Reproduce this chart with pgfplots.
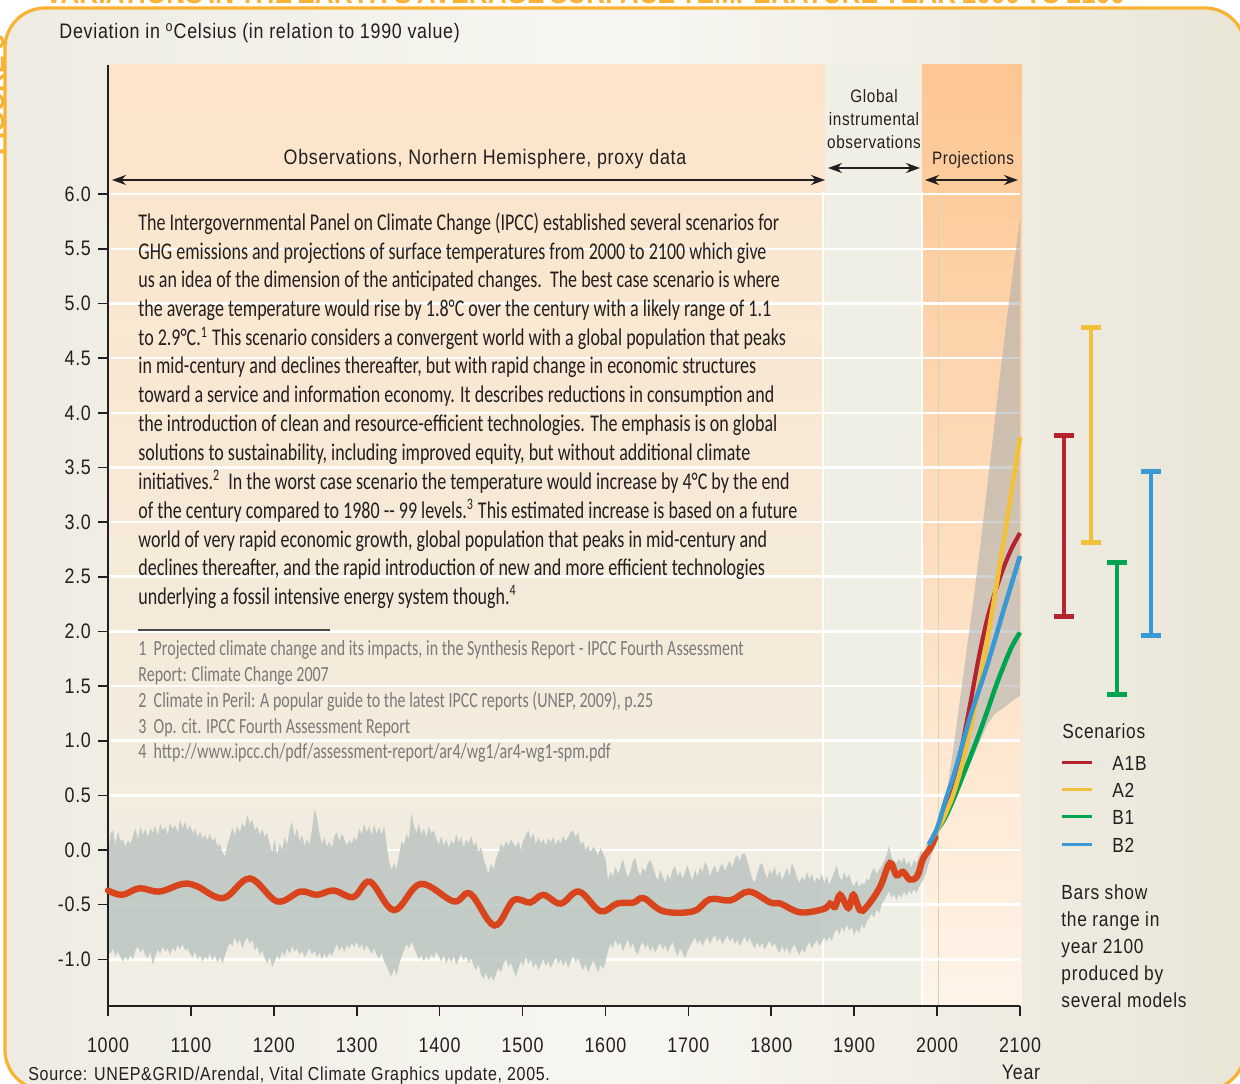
\documentclass[border=0pt]{standalone}
\usepackage{pgfplots}
\pgfplotsset{compat=1.18}
\usepackage{pgfplotstable}
\usetikzlibrary{arrows.meta}
\usepackage{fontspec}
\setmainfont{Liberation Sans}
\newfontfamily\lab[FakeStretch=0.85, LetterSpace=3.5]{Liberation Sans}
\newfontfamily\body[FakeStretch=0.75]{Carlito}
\newfontfamily\nte[FakeStretch=0.74]{Carlito}
\newfontfamily\ttl[FakeStretch=0.95]{Liberation Sans}
\newcommand\labfont{\lab\fontsize{10.5}{12.6}\selectfont}
\newcommand\smlfont{\lab\fontsize{9}{11}\selectfont}
\newcommand\srcfont{\lab\fontsize{9.4}{11}\selectfont}
\newcommand\legfont{\lab\fontsize{10.2}{12}\selectfont}
\newcommand\bodyfont{\body\fontsize{12}{14.35}\selectfont}
\newcommand\notefont{\nte\fontsize{10.8}{13}\selectfont}
\newcommand\ttlfont{\ttl\bfseries\fontsize{13.8}{16}\selectfont}

\definecolor{frameor}{HTML}{F9B234}
\definecolor{panelL}{HTML}{EEECE2}
\definecolor{panelM}{HTML}{F7F6F1}
\definecolor{panelR}{HTML}{E9E6D8}
\definecolor{proxyT}{HTML}{FCE5CA}
\definecolor{proxyB}{HTML}{F0EEE5}
\definecolor{instr}{HTML}{F0EFE6}
\definecolor{projT}{HTML}{FDC692}
\definecolor{projB}{HTML}{FEF4E9}
\definecolor{band}{HTML}{BCC6C2}
\definecolor{obsred}{HTML}{D8451D}
\definecolor{cA1B}{HTML}{B5242E}
\definecolor{cA2}{HTML}{F2C13B}
\definecolor{cB1}{HTML}{00A450}
\definecolor{cB2}{HTML}{3A98D3}
\definecolor{txt}{HTML}{231F20}
\definecolor{note}{HTML}{7A7A7A}
\definecolor{projband}{HTML}{A9ADAD}
\definecolor{grn}{HTML}{C9D9B4}

\pgfplotsset{myax/.style={at={(54pt,38.5pt)}, anchor=south west,
  width=456pt, height=470.5pt, scale only axis,
  xmin=1000, xmax=2100, ymin=-1.427, ymax=7.182}}

\pgfplotstableread{
yr u l
1000 -0.05 -0.92
1003 0.15 -0.95
1006 0.18 -0.90
1009 0.05 -0.97
1012 0.17 -0.93
1015 0.08 -0.98
1018 0.10 -1.02
1021 0.03 -0.97
1024 0.09 -1.01
1027 0.06 -0.96
1030 0.12 -1.00
1033 0.20 -0.92
1036 0.10 -0.88
1039 0.21 -0.94
1042 0.14 -0.90
1045 0.19 -0.96
1048 0.12 -0.99
1051 0.20 -0.93
1054 0.16 -1.05
1057 0.22 -0.97
1060 0.13 -0.91
1063 0.24 -0.95
1066 0.18 -0.88
1069 0.21 -0.93
1072 0.14 -0.90
1075 0.25 -0.96
1078 0.19 -0.89
1081 0.23 -0.93
1084 0.16 -0.87
1087 0.28 -0.91
1090 0.20 -0.86
1093 0.26 -0.92
1096 0.18 -0.90
1099 0.23 -0.95
1102 0.15 -0.98
1105 0.20 -0.93
1108 0.12 -1.00
1111 0.17 -0.96
1114 0.10 -1.02
1117 0.14 -0.97
1120 0.09 -1.00
1123 0.15 -0.95
1126 0.08 -1.01
1129 0.12 -0.96
1132 0.03 -1.03
1135 0.06 -0.98
1138 -0.02 -1.04
1141 -0.06 -0.97
1144 0.05 -0.90
1147 0.12 -0.85
1150 0.20 -0.88
1153 0.14 -0.80
1156 0.22 -0.86
1159 0.16 -0.82
1162 0.25 -0.90
1165 0.20 -0.84
1168 0.32 -0.80
1171 0.24 -0.86
1174 0.28 -0.82
1177 0.18 -0.92
1180 0.22 -0.88
1183 0.14 -0.96
1186 0.19 -0.92
1189 0.12 -0.99
1192 0.16 -1.04
1195 0.05 -0.98
1198 -0.02 -1.07
1201 0.10 -1.02
1204 -0.05 -0.96
1207 0.06 -1.00
1210 0.00 -0.93
1213 0.12 -0.97
1216 0.05 -0.90
1219 0.18 -0.95
1222 0.26 -0.88
1225 0.12 -0.93
1228 0.20 -0.90
1231 0.08 -0.96
1234 0.14 -0.92
1237 0.04 -0.98
1240 0.10 -0.94
1243 0.05 -0.90
1246 0.18 -0.96
1249 0.37 -0.92
1252 0.30 -0.98
1255 0.15 -0.94
1258 0.06 -1.00
1261 0.12 -0.95
1264 0.03 -0.99
1267 0.08 -0.94
1270 0.02 -0.97
1273 0.13 -0.91
1276 0.16 -0.86
1279 0.08 -0.92
1282 0.15 -0.88
1285 0.10 -0.93
1288 0.04 -0.87
1291 0.09 -0.90
1294 0.06 -0.85
1297 0.12 -0.89
1300 0.08 -0.84
1303 0.20 -0.90
1306 0.14 -0.86
1309 0.24 -0.92
1312 0.16 -0.87
1315 0.22 -0.91
1318 0.13 -0.95
1321 0.23 -0.90
1324 0.15 -0.96
1327 0.21 -0.99
1330 0.14 -0.94
1333 0.22 -1.02
1336 0.05 -1.06
1339 -0.10 -1.12
1342 -0.18 -1.16
1345 -0.12 -1.08
1348 -0.17 -1.15
1351 -0.05 -1.05
1354 0.08 -0.98
1357 0.05 -0.92
1360 0.15 -0.86
1363 0.10 -0.90
1366 0.34 -0.84
1369 0.22 -0.89
1372 0.16 -0.95
1375 0.24 -1.00
1378 0.14 -0.96
1381 0.20 -1.02
1384 0.12 -0.97
1387 0.22 -1.01
1390 0.15 -0.95
1393 0.18 -0.99
1396 0.10 -0.93
1399 0.05 -0.97
1402 0.13 -1.02
1405 0.04 -0.96
1408 0.10 -1.04
1411 0.02 -0.98
1414 0.09 -1.03
1417 0.05 -0.97
1420 0.14 -1.05
1423 0.07 -1.00
1426 0.12 -0.95
1429 0.03 -1.01
1432 0.10 -0.97
1435 0.06 -1.04
1438 0.13 -0.99
1441 0.04 -1.06
1444 0.07 -1.10
1447 -0.02 -1.05
1450 0.03 -1.14
1453 -0.08 -1.18
1456 -0.15 -1.12
1459 -0.22 -1.19
1462 -0.12 -1.15
1465 -0.18 -1.20
1468 -0.08 -1.13
1471 -0.02 -1.08
1474 0.06 -1.12
1477 0.02 -1.04
1480 0.08 -1.00
1483 0.04 -1.07
1486 0.10 -1.03
1489 0.06 -1.10
1492 0.03 -1.16
1495 0.08 -1.08
1498 0.00 -1.02
1501 0.09 -1.06
1504 0.14 -0.98
1507 0.18 -1.04
1510 0.10 -1.00
1513 0.16 -1.08
1516 0.05 -1.03
1519 0.12 -1.10
1522 0.06 -1.05
1525 0.10 -1.00
1528 0.04 -1.06
1531 0.11 -1.02
1534 0.07 -1.08
1537 0.12 -1.03
1540 0.05 -0.98
1543 0.10 -1.04
1546 0.06 -1.00
1549 0.13 -1.06
1552 0.08 -1.01
1555 0.12 -1.08
1558 0.16 -1.02
1561 0.18 -0.97
1564 0.12 -1.03
1567 0.16 -0.99
1570 0.05 -1.05
1573 0.08 -1.10
1576 0.00 -1.04
1579 0.04 -1.12
1582 -0.02 -1.07
1585 0.03 -1.01
1588 0.00 -1.06
1591 -0.05 -1.12
1594 0.02 -1.05
1597 -0.03 -1.09
1600 -0.08 -1.03
1603 -0.27 -0.92
1606 -0.20 -0.86
1609 -0.24 -0.90
1612 -0.15 -0.82
1615 -0.22 -0.88
1618 -0.16 -0.84
1621 -0.08 -0.93
1624 -0.18 -0.87
1627 -0.25 -0.82
1630 -0.20 -0.90
1633 -0.10 -0.85
1636 -0.07 -0.92
1639 -0.18 -0.96
1642 -0.24 -0.88
1645 -0.16 -0.84
1648 -0.20 -0.90
1651 -0.12 -0.86
1654 -0.09 -0.93
1657 -0.15 -0.88
1660 -0.22 -0.94
1663 -0.28 -0.89
1666 -0.18 -0.85
1669 -0.24 -0.91
1672 -0.30 -0.87
1675 -0.22 -0.93
1678 -0.27 -0.88
1681 -0.18 -0.84
1684 -0.15 -0.92
1687 -0.24 -0.97
1690 -0.19 -0.90
1693 -0.26 -0.94
1696 -0.20 -0.99
1699 -0.14 -0.92
1702 -0.22 -0.88
1705 -0.28 -0.84
1708 -0.18 -0.80
1711 -0.24 -0.86
1714 -0.16 -0.82
1717 -0.20 -0.88
1720 -0.11 -0.83
1723 -0.15 -0.80
1726 -0.24 -0.86
1729 -0.18 -0.81
1732 -0.14 -0.78
1735 -0.22 -0.84
1738 -0.16 -0.80
1741 -0.12 -0.86
1744 -0.19 -0.82
1747 -0.14 -0.78
1750 -0.10 -0.84
1753 -0.16 -0.80
1756 -0.08 -0.86
1759 -0.05 -0.82
1762 -0.10 -0.88
1765 -0.04 -0.83
1768 -0.03 -0.79
1771 -0.10 -0.85
1774 -0.18 -0.80
1777 -0.26 -0.86
1780 -0.30 -0.90
1783 -0.22 -0.84
1786 -0.14 -0.89
1789 -0.12 -0.85
1792 -0.20 -0.91
1795 -0.26 -0.87
1798 -0.18 -0.83
1801 -0.22 -0.89
1804 -0.15 -0.85
1807 -0.25 -0.91
1810 -0.19 -0.94
1813 -0.28 -0.88
1816 -0.22 -0.93
1819 -0.16 -0.89
1822 -0.24 -0.95
1825 -0.12 -0.90
1828 -0.18 -0.86
1831 -0.25 -0.92
1834 -0.30 -0.96
1837 -0.24 -0.90
1840 -0.28 -0.94
1843 -0.20 -0.88
1846 -0.27 -0.84
1849 -0.22 -0.90
1852 -0.30 -0.86
1855 -0.25 -0.82
1858 -0.28 -0.88
1861 -0.22 -0.84
1864 -0.30 -0.80
1867 -0.24 -0.84
1870 -0.32 -0.79
1873 -0.26 -0.83
1876 -0.20 -0.76
1879 -0.14 -0.72
1882 -0.24 -0.78
1885 -0.28 -0.70
1888 -0.20 -0.75
1891 -0.26 -0.68
1894 -0.22 -0.74
1897 -0.30 -0.70
1900 -0.33 -0.78
1903 -0.28 -0.72
1906 -0.34 -0.76
1909 -0.30 -0.68
1912 -0.32 -0.72
1915 -0.26 -0.66
1918 -0.28 -0.62
1921 -0.20 -0.58
1924 -0.16 -0.62
1927 -0.22 -0.54
1930 -0.18 -0.58
1933 -0.15 -0.50
1936 -0.10 -0.46
1939 -0.05 -0.42
1942 0.04 -0.38
1945 -0.06 -0.44
1948 -0.10 -0.40
1951 -0.12 -0.46
1954 -0.08 -0.40
1957 -0.12 -0.44
1960 -0.06 -0.38
1963 -0.14 -0.42
1966 -0.10 -0.37
1969 -0.16 -0.40
1972 -0.09 -0.36
1975 -0.12 -0.39
1978 -0.06 -0.34
1981 0.00 -0.30
1984 -0.05 -0.26
1987 0.05 -0.20
1990 0.10 -0.12
1993 0.08 -0.05
1996 0.18 0.02
}\proxy

\begin{document}
\begin{tikzpicture}
\begin{scope}[x=0.5pt,y=0.5pt]
\fill[white] (0,0) rectangle (1240,1083);
\shade[left color=panelL, right color=panelR, middle color=panelM, rounded corners=20pt] (5,1083-8) rectangle (1245,1083-1090);
\draw[frameor, line width=1.6pt, rounded corners=20pt] (5,1083-8) rectangle (1245,1083-1090);
\node[anchor=base, text=frameor, font=\ttlfont, inner sep=0] at (585,1083-4) {\makebox[540pt][s]{VARIATIONS IN THE EARTH'S AVERAGE SURFACE TEMPERATURE YEAR 1000 TO 2100}};
\node[anchor=base, rotate=90, text=frameor, font=\ttlfont, inner sep=0] at (4,1083-95) {FIGURE 3};
% background regions
\shade[top color=proxyT, bottom color=proxyB] (108,1083-65) rectangle (825,1083-1006);
\fill[instr] (825,1083-65) rectangle (922,1083-1006);
\shade[top color=projT, bottom color=projB] (922,1083-65) rectangle (1022,1083-1006);
\draw[white, line width=1.3pt] (823,1083-192) -- (823,1083-1006);
\draw[white, line width=1.3pt] (922,1083-192) -- (922,1083-1006);
\draw[grn, line width=0.7pt] (938.5,1083-190) -- (938.5,1083-1006);
\end{scope}

% axis 1: frame, ticks, grid
\begin{axis}[myax,
  axis x line*=bottom, axis y line*=left,
  axis line style={txt, line width=0.9pt},
  xtick={1000,1100,...,2100},
  ytick={-1,-0.5,...,6},
  tick align=outside, major tick length=5pt,
  tick style={txt, line width=0.8pt},
  ymajorgrids, major grid style={white, line width=1.3pt},
  ticklabel style={font=\labfont, text=txt},
  xticklabel style={yshift=-7.5pt, /pgf/number format/1000 sep={}},
  yticklabel style={/pgf/number format/.cd, fixed, fixed zerofill, precision=1},
  /pgf/number format/assume math mode=true,
]
\addplot[draw=none] coordinates {(1000,0)};
\end{axis}

% axis 2: proxy band (stacked fill between lower and upper)
\begin{axis}[myax, hide axis, stack plots=y]
\addplot[draw=none] table[x=yr, y=l] {\proxy};
\addplot[fill=band, fill opacity=0.85, draw=none] table[x=yr, y expr=\thisrow{u}-\thisrow{l}] {\proxy} \closedcycle;
\end{axis}

% axis 3: projections, observed line, bars
\begin{axis}[myax, hide axis, clip=false]
\addplot[fill=projband, fill opacity=0.55, draw=none] coordinates {
(1990,0.02)(1996,0.17)(2004,0.3)(2012,0.55)(2020,0.95)(2028,1.4)(2036,1.85)(2044,2.3)(2052,2.78)(2060,3.3)(2068,3.82)(2076,4.35)(2084,4.85)(2092,5.32)(2100,5.78)
(2100,1.41)(2090,1.36)(2080,1.3)(2070,1.25)(2060,1.14)(2048,0.93)(2036,0.72)(2028,0.56)(2020,0.42)(2012,0.33)(2004,0.26)(1996,0.15)(1990,0.02)};

\draw[txt, line width=0.9pt] (rel axis cs:0,0) -- (rel axis cs:0,1);

\addplot[obsred, line width=3.2pt, smooth, tension=0.6, line cap=round] coordinates {
(1000,-0.37) (1017,-0.41) (1038,-0.35) (1062,-0.38) (1090,-0.31) (1107,-0.33) (1139,-0.44) (1171,-0.26) (1204,-0.47) (1232,-0.38) (1252,-0.41) (1272,-0.37) (1296,-0.43) (1316,-0.29) (1345,-0.55) (1377,-0.31) (1417,-0.47) (1437,-0.40) (1466,-0.69) (1489,-0.46) (1509,-0.48) (1525,-0.41) (1546,-0.49) (1568,-0.38) (1594,-0.56) (1614,-0.49) (1634,-0.48) (1646,-0.44) (1670,-0.56) (1706,-0.56) (1726,-0.45) (1751,-0.46) (1773,-0.38) (1799,-0.48) (1811,-0.49) (1835,-0.57) (1863,-0.54) (1871,-0.49) (1877,-0.52) (1883,-0.41) (1893,-0.53) (1899,-0.41) (1907,-0.55) (1915,-0.52) (1931,-0.34) (1943,-0.12) (1951,-0.23) (1959,-0.20) (1967,-0.27) (1976,-0.24) (1983,-0.08) (1992,0.02) (1998,0.12)};

\addplot[cB1, line width=2.3pt, smooth] coordinates {(1995,0.12)(2000,0.18)(2010,0.3)(2020,0.47)(2030,0.66)(2040,0.85)(2050,1.05)(2060,1.26)(2070,1.48)(2080,1.68)(2090,1.86)(2100,1.99)};
\addplot[cA1B, line width=2.1pt, smooth] coordinates {(1995,0.12)(2000,0.18)(2010,0.36)(2020,0.6)(2030,0.95)(2040,1.34)(2050,1.75)(2060,2.1)(2070,2.36)(2080,2.58)(2090,2.76)(2100,2.9)};
\addplot[cA2, line width=2.3pt, smooth] coordinates {(1995,0.12)(2000,0.18)(2010,0.33)(2020,0.52)(2030,0.78)(2040,1.1)(2050,1.48)(2060,1.9)(2070,2.35)(2080,2.81)(2090,3.29)(2100,3.78)};
\addplot[cB2, line width=2.3pt, smooth] coordinates {(1990,0.05)(2000,0.2)(2010,0.45)(2020,0.68)(2030,0.95)(2040,1.22)(2050,1.45)(2060,1.68)(2070,1.93)(2080,2.19)(2090,2.44)(2100,2.69)};

\addplot[cA1B, line width=2pt, mark=-, mark size=5pt, mark options={line width=2.4pt}] coordinates {(2153,2.14)(2153,3.79)};
\addplot[cA2, line width=2pt, mark=-, mark size=5pt, mark options={line width=2.4pt}] coordinates {(2186,2.81)(2186,4.78)};
\addplot[cB1, line width=2pt, mark=-, mark size=5pt, mark options={line width=2.4pt}] coordinates {(2217,1.42)(2217,2.63)};
\addplot[cB2, line width=2pt, mark=-, mark size=5pt, mark options={line width=2.4pt}] coordinates {(2258,1.96)(2258,3.46)};
\end{axis}

\begin{scope}[x=0.5pt,y=0.5pt]
\tikzset{lbl/.style={font=\labfont, text=txt, inner sep=0}}
\node[lbl, anchor=base west] at (59,1083-39) {Deviation in \textsuperscript{o}Celsius (in relation to 1990 value)};
\node[lbl, anchor=base] at (485,1083-165) {Observations, Norhern Hemisphere, proxy data};
\node[lbl, font=\smlfont, anchor=base] at (874,1083-103) {Global};
\node[lbl, font=\smlfont, anchor=base] at (874,1083-126) {instrumental};
\node[lbl, font=\smlfont, anchor=base] at (874,1083-149) {observations};
\node[lbl, font=\smlfont, anchor=base] at (973,1083-165) {Projections};
\draw[txt, line width=0.9pt, {Stealth[length=7pt,width=5pt]}-{Stealth[length=7pt,width=5pt]}] (112,1083-180) -- (825,1083-180);
\draw[txt, line width=0.9pt, {Stealth[length=7pt,width=5pt]}-{Stealth[length=7pt,width=5pt]}] (828,1083-168) -- (920,1083-168);
\draw[txt, line width=0.9pt, {Stealth[length=7pt,width=5pt]}-{Stealth[length=7pt,width=5pt]}] (925,1083-180) -- (1018,1083-180);
\node[lbl, anchor=base] at (1021,1083-1079) {Year};
\node[lbl, font=\srcfont, anchor=base west] at (28,1083-1080) {Source: UNEP\&GRID/Arendal, Vital Climate Graphics update, 2005.};
% legend
\node[lbl, font=\legfont, anchor=base west] at (1062,1083-738) {Scenarios};
\draw[cA1B, line width=1.5pt] (1062,1083-762) -- (1092,1083-762);
\draw[cA2, line width=1.5pt] (1062,1083-789) -- (1092,1083-789);
\draw[cB1, line width=1.5pt] (1062,1083-816) -- (1092,1083-816);
\draw[cB2, line width=1.5pt] (1062,1083-844) -- (1092,1083-844);
\node[lbl, font=\legfont, anchor=base west] at (1112,1083-770) {A1B};
\node[lbl, font=\legfont, anchor=base west] at (1112,1083-797) {A2};
\node[lbl, font=\legfont, anchor=base west] at (1112,1083-824) {B1};
\node[lbl, font=\legfont, anchor=base west] at (1112,1083-852) {B2};
\node[lbl, font=\legfont, anchor=base west] at (1061,1083-899) {Bars show};
\node[lbl, font=\legfont, anchor=base west] at (1061,1083-926) {the range in};
\node[lbl, font=\legfont, anchor=base west] at (1061,1083-953) {year 2100};
\node[lbl, font=\legfont, anchor=base west] at (1061,1083-980) {produced by};
\node[lbl, font=\legfont, anchor=base west] at (1061,1083-1007) {several models};
% body text
\tikzset{bd/.style={font=\bodyfont, text=txt, inner sep=0, anchor=base west}}
\node[bd] at (138,1083-231) {The Intergovernmental Panel on Climate Change (IPCC) established several scenarios for};
\node[bd] at (138,1083-260) {GHG emissions and projections of surface temperatures from 2000 to 2100 which give};
\node[bd] at (138,1083-288) {us an idea of the dimension of the anticipated changes.\ \ The best case scenario is where};
\node[bd] at (138,1083-317) {the average temperature would rise by 1.8°C over the century with a likely range of 1.1};
\node[bd] at (138,1083-346) {to 2.9°C.\textsuperscript{1} This scenario considers a convergent world with a global population that peaks};
\node[bd] at (138,1083-374) {in mid-century and declines thereafter, but with rapid change in economic structures};
\node[bd] at (138,1083-403) {toward a service and information economy. It describes reductions in consumption and};
\node[bd] at (138,1083-431) {the introduction of clean and resource-efficient technologies. The emphasis is on global};
\node[bd] at (138,1083-460) {solutions to sustainability, including improved equity, but without additional climate};
\node[bd] at (138,1083-489) {initiatives.\textsuperscript{2}\ \ In the worst case scenario the temperature would increase by 4°C by the end};
\node[bd] at (138,1083-518) {of the century compared to 1980 -- 99 levels.\textsuperscript{3} This estimated increase is based on a future};
\node[bd] at (138,1083-547) {world of very rapid economic growth, global population that peaks in mid-century and};
\node[bd] at (138,1083-575) {declines thereafter, and the rapid introduction of new and more efficient technologies};
\node[bd] at (138,1083-604) {underlying a fossil intensive energy system though.\textsuperscript{4}};
\draw[black!70, line width=1pt] (138,1083-630) -- (330,1083-630);
\tikzset{nt/.style={font=\notefont, text=note, inner sep=0, anchor=base west}}
\node[nt] at (138,1083-655) {1\ \ Projected climate change and its impacts, in the Synthesis Report - IPCC Fourth Assessment};
\node[nt] at (138,1083-681) {Report: Climate Change 2007};
\node[nt] at (138,1083-707) {2\ \ Climate in Peril: A popular guide to the latest IPCC reports (UNEP, 2009), p.25};
\node[nt] at (138,1083-733) {3\ \ Op. cit. IPCC Fourth Assessment Report};
\node[nt] at (138,1083-758) {4\ \ http://www.ipcc.ch/pdf/assessment-report/ar4/wg1/ar4-wg1-spm.pdf};
\end{scope}
\pgfresetboundingbox
\useasboundingbox (0,0) rectangle (620pt,541.5pt);
\end{tikzpicture}
\end{document}
